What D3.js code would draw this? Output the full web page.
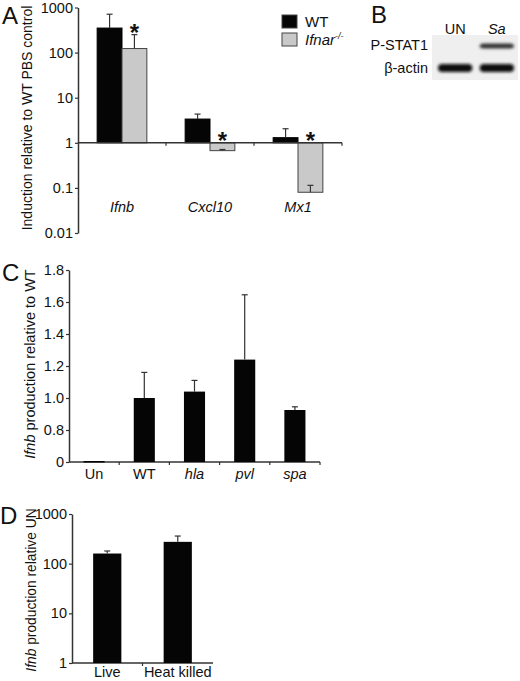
<!DOCTYPE html>
<html>
<head>
<meta charset="utf-8">
<script src="https://cdn.jsdelivr.net/npm/d3@7"></script>
<style>
body { margin: 0; background: #fff; }
svg { display: block; font-family: "Liberation Sans", Arial, sans-serif; }
</style>
</head>
<body>
<div id="app"></div>
<script>
// panel A
var genesA = ['Ifnb', 'Cxcl10', 'Mx1'],
    seriesA = ['WT', 'Ifnar'],
    wtA = [350, 3.36, 1.3],
    wtErrA = [710, 4.33, 2.05],
    koA = [123, 0.67, 0.08],
    koErrA = [250, 0.71, 0.114],
    ticksA = [0.01, 0.1, 1, 10, 100, 1000];

// panel B (blot lanes)
var lanesB = ['UN', 'Sa'],
    rowsB = ['P-STAT1', '\u03b2-actin'],
    pstatB = [0, 1],
    actinB = [1, 1];

// panel C
var strainsC = ['Un', 'WT', 'hla', 'pvl', 'spa'],
    italicC = [false, false, true, true, true],
    valuesC = [0, 1.0, 1.04, 1.24, 0.925],
    errC = [0, 1.16, 1.11, 1.645, 0.945],
    ticksC = [0.6, 0.8, 1.0, 1.2, 1.4, 1.6, 1.8],
    tickLabelsC = ['0', '0.8', '1.0', '1.2', '1.4', '1.6', '1.8'];

// panel D
var groupsD = ['Live', 'Heat killed'],
    valuesD = [160, 275],
    errD = [180, 360],
    ticksD = [1, 10, 100, 1000];

var ink = '#111', axisCol = '#333';

var svg = d3.select('#app').append('svg')
            .attr('width', 520)
            .attr('height', 681);

svg.append('rect').attr('width', 520).attr('height', 681).attr('fill', '#fff');

var defs = svg.append('defs');
defs.append('filter').attr('id', 'blur')
    .attr('x', '-20%').attr('y', '-60%').attr('width', '140%').attr('height', '220%')
    .append('feGaussianBlur').attr('stdDeviation', 1.4);

function panelLetter(t, x, y) {
  svg.append('text').attr('x', x).attr('y', y)
     .attr('font-size', 24).attr('fill', ink).text(t);
}

function yLabel(parts, cx, cy, fs) {
  var t = svg.append('text')
             .attr('transform', 'translate(' + cx + ',' + cy + ') rotate(-90)')
             .attr('text-anchor', 'middle')
             .attr('font-size', fs)
             .attr('fill', ink);
  parts.forEach(function(p) {
    t.append('tspan').attr('font-style', p[1] ? 'italic' : 'normal').text(p[0]);
  });
}

function styleAxis(g) {
  g.select('.domain').attr('stroke', axisCol).attr('stroke-width', 1.5);
  g.selectAll('.tick line').attr('stroke', axisCol).attr('stroke-width', 1.2);
  g.selectAll('.tick text').attr('fill', ink).attr('font-size', 14.5)
   .attr('font-family', '"Liberation Sans", Arial, sans-serif');
}

function errorBar(g, x, y0, y1, w) {
  g.append('line').attr('x1', x).attr('x2', x).attr('y1', y0).attr('y2', y1)
   .attr('stroke', axisCol).attr('stroke-width', 1.2);
  g.append('line').attr('x1', x - w / 2).attr('x2', x + w / 2).attr('y1', y1).attr('y2', y1)
   .attr('stroke', axisCol).attr('stroke-width', 1.2);
}

// ---------------- A ----------------
panelLetter('A', 2, 24);

var yA = d3.scaleLog().domain([0.01, 1000]).range([233, 7.5]);
var x0A = d3.scaleBand().domain(genesA).range([78, 342]).padding(0);
var x1A = d3.scaleBand().domain(seriesA).range([0, x0A.bandwidth()])
            .paddingInner(0).paddingOuter(0.77);

var gA = svg.append('g');
var axA = gA.append('g').attr('transform', 'translate(78,0)')
            .call(d3.axisLeft(yA).tickValues(ticksA).tickSize(3).tickSizeOuter(0).tickPadding(2)
                    .tickFormat(function(d) { return d >= 1 ? d3.format('d')(d) : String(d); }));
styleAxis(axA);

var colsA = {WT: '#050505', Ifnar: '#c9c9c9'};
genesA.forEach(function(g, i) {
  var vals = {WT: wtA[i], Ifnar: koA[i]},
      errs = {WT: wtErrA[i], Ifnar: koErrA[i]};
  seriesA.forEach(function(s) {
    var xb = x0A(g) + x1A(s), w = x1A.bandwidth(), v = vals[s];
    gA.append('rect')
      .attr('x', xb).attr('width', w)
      .attr('y', Math.min(yA(v), yA(1)))
      .attr('height', Math.abs(yA(v) - yA(1)))
      .attr('fill', colsA[s])
      .attr('stroke', s === 'WT' ? '#000' : '#444')
      .attr('stroke-width', 1);
    errorBar(gA, xb + w / 2, yA(v), yA(errs[s]), 6);
  });
  // significance star over the knockout bar
  var xs = x0A(g) + x1A('Ifnar') + x1A.bandwidth() / 2,
      top = Math.min(yA(koErrA[i]), yA(1));
  gA.append('text').attr('x', xs).attr('y', top + 6)
    .attr('text-anchor', 'middle').attr('font-size', 24).attr('font-weight', 'bold')
    .attr('fill', ink).text('*');
  gA.append('text').attr('x', x0A(g) + x0A.bandwidth() / 2).attr('y', 212)
    .attr('text-anchor', 'middle').attr('font-size', 14.5).attr('font-style', 'italic')
    .attr('fill', ink).text(g);
});

// x axis at 1
gA.append('line').attr('x1', 78).attr('x2', 342).attr('y1', yA(1)).attr('y2', yA(1))
  .attr('stroke', axisCol).attr('stroke-width', 1.5);
genesA.forEach(function(g) {
  var xe = x0A(g) + x0A.bandwidth();
  gA.append('line').attr('x1', xe).attr('x2', xe).attr('y1', yA(1)).attr('y2', yA(1) + 3)
    .attr('stroke', axisCol).attr('stroke-width', 1.2);
});

yLabel([['Induction relative to WT PBS control', false]], 32, 118, 14);

// legend
var legA = svg.append('g').attr('transform', 'translate(282,15)');
seriesA.forEach(function(s, i) {
  legA.append('rect').attr('x', 0).attr('y', i * 18).attr('width', 15).attr('height', 13)
      .attr('fill', colsA[s]).attr('stroke', '#444').attr('stroke-width', 1);
  var t = legA.append('text').attr('x', 23).attr('y', i * 18 + 12)
              .attr('font-size', 15).attr('fill', ink);
  if (s === 'WT') t.text('WT');
  else {
    t.append('tspan').attr('font-style', 'italic').text('Ifnar');
    t.append('tspan').attr('font-style', 'italic').attr('font-size', 9).attr('dy', -6).text('-/-');
  }
});

// ---------------- B ----------------
panelLetter('B', 371, 23);
var xB = d3.scaleBand().domain(lanesB).range([436, 516]).paddingInner(0.08);
var yB = d3.scaleBand().domain(rowsB).range([33, 80]).padding(0.05);
svg.append('rect').attr('x', 432).attr('y', 35).attr('width', 86).attr('height', 45).attr('fill', '#efefef');
lanesB.forEach(function(l) {
  svg.append('text').attr('x', xB(l) + xB.bandwidth() / 2).attr('y', 34)
     .attr('text-anchor', 'middle').attr('font-size', 14.5)
     .attr('font-style', l === 'Sa' ? 'italic' : 'normal').attr('fill', ink).text(l);
});
rowsB.forEach(function(r, j) {
  svg.append('text').attr('x', 428).attr('y', yB(r) + yB.bandwidth() / 2 + 5)
     .attr('text-anchor', 'end').attr('font-size', 14.5).attr('fill', ink).text(r);
  var amt = j === 0 ? pstatB : actinB;
  lanesB.forEach(function(l, k) {
    if (!amt[k]) return;
    var cy = yB(r) + yB.bandwidth() / 2 + (j === 0 ? 1 : 0);
    svg.append('rect')
       .attr('x', xB(l) + 2).attr('width', xB.bandwidth() - 4)
       .attr('y', cy - (j === 0 ? 2.5 : 4)).attr('height', j === 0 ? 5 : 8)
       .attr('rx', 4)
       .attr('fill', j === 0 ? '#333' : '#111')
       .attr('filter', 'url(#blur)');
  });
});

// ---------------- C ----------------
panelLetter('C', 2, 281);
var yC = d3.scaleLinear().domain([0.6, 1.8]).range([462, 270]).clamp(true);
var xC = d3.scaleBand().domain(strainsC).range([69, 320]).paddingInner(0.58).paddingOuter(0.29);
var xCe = d3.scaleBand().domain(strainsC).range([69, 320]).padding(0);
var gC = svg.append('g');
var axC = gC.append('g').attr('transform', 'translate(69,0)')
            .call(d3.axisLeft(yC).tickValues(ticksC).tickSize(3).tickSizeOuter(0).tickPadding(2)
                    .tickFormat(function(d, i) { return tickLabelsC[i]; }));
styleAxis(axC);
gC.append('line').attr('x1', 69).attr('x2', 320).attr('y1', 462).attr('y2', 462)
  .attr('stroke', axisCol).attr('stroke-width', 1.5);
strainsC.forEach(function(s, i) {
  var xb = xC(s), w = xC.bandwidth();
  var h = Math.max(yC(0) - yC(valuesC[i]), 0);
  gC.append('rect').attr('x', xb).attr('width', w)
    .attr('y', yC(valuesC[i]) - (h === 0 ? 1 : 0)).attr('height', h === 0 ? 1.5 : h)
    .attr('fill', '#050505');
  if (errC[i] > valuesC[i]) errorBar(gC, xb + w / 2, yC(valuesC[i]), yC(errC[i]), 6);
  var xe = xCe(s) + xCe.bandwidth();
  gC.append('line').attr('x1', xe).attr('x2', xe).attr('y1', 462).attr('y2', 465)
    .attr('stroke', axisCol).attr('stroke-width', 1.2);
  gC.append('text').attr('x', xb + w / 2).attr('y', 479)
    .attr('text-anchor', 'middle').attr('font-size', 14.5)
    .attr('font-style', italicC[i] ? 'italic' : 'normal').attr('fill', ink).text(s);
});
yLabel([['Ifnb', true], [' production relative to WT', false]], 35, 364, 14.5);

// ---------------- D ----------------
panelLetter('D', 0, 524);
var yD = d3.scaleLog().domain([1, 1000]).range([663, 514]);
var xD = d3.scaleBand().domain(groupsD).range([72, 213]).paddingInner(0.6).paddingOuter(0.3);
var xDe = d3.scaleBand().domain(groupsD).range([72, 213]).padding(0);
var gD = svg.append('g');
var axD = gD.append('g').attr('transform', 'translate(72,0)')
            .call(d3.axisLeft(yD).tickValues(ticksD).tickSize(3).tickSizeOuter(0).tickPadding(2)
                    .tickFormat(d3.format('d')));
styleAxis(axD);
gD.append('line').attr('x1', 72).attr('x2', 213).attr('y1', 663).attr('y2', 663)
  .attr('stroke', axisCol).attr('stroke-width', 1.5);
groupsD.forEach(function(g, i) {
  var xb = xD(g), w = xD.bandwidth();
  gD.append('rect').attr('x', xb).attr('width', w)
    .attr('y', yD(valuesD[i])).attr('height', yD(1) - yD(valuesD[i]))
    .attr('fill', '#050505');
  errorBar(gD, xb + w / 2, yD(valuesD[i]), yD(errD[i]), 6);
  if (i < groupsD.length - 1) {
    var xe = xDe(g) + xDe.bandwidth();
    gD.append('line').attr('x1', xe).attr('x2', xe).attr('y1', 663).attr('y2', 666)
      .attr('stroke', axisCol).attr('stroke-width', 1.2);
  }
  gD.append('text').attr('x', xb + w / 2).attr('y', 677)
    .attr('text-anchor', 'middle').attr('font-size', 14.5).attr('fill', ink).text(g);
});
yLabel([['Ifnb', true], [' production relative UN', false]], 36, 590, 13.8);
</script>
</body>
</html>
